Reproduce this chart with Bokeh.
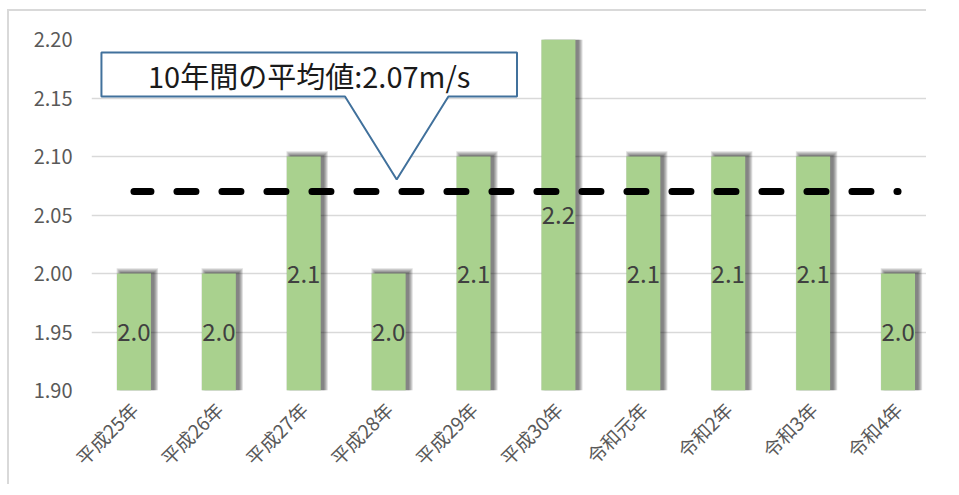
from bokeh.plotting import figure
from bokeh.models import (FactorRange, Range1d, FixedTicker, NumeralTickFormatter,
                          PolyAnnotation, Label, ColumnDataSource)
from bokeh.transform import dodge
from bokeh.core.properties import value
from bokeh.embed import file_html
from bokeh.resources import INLINE

# ---- data ----
categories = ["平成25年", "平成26年", "平成27年", "平成28年", "平成29年",
              "平成30年", "令和元年", "令和2年", "令和3年", "令和4年"]
wind_speed = [2.0, 2.0, 2.1, 2.0, 2.1, 2.2, 2.1, 2.1, 2.1, 2.0]
average = 2.07
y_ticks = [1.90, 1.95, 2.00, 2.05, 2.10, 2.15, 2.20]
callout_text = "10年間の平均値:2.07m/s"

Y0, Y1 = 1.90, 2.20
FONT = "Noto Sans CJK JP"

src = ColumnDataSource(dict(
    cat=categories,
    v=wind_speed,
    mid=[(Y0 + v) / 2 for v in wind_speed],
    lab=[f"{v:.1f}" for v in wind_speed],
    avg=[average] * len(categories),
))

p = figure(x_range=FactorRange(*categories), y_range=Range1d(Y0, Y1),
           width=919, height=475, output_backend="svg", toolbar_location=None,
           min_border_left=0, min_border_right=9, min_border_top=28,
           min_border_bottom=96)
p.styles = {"margin-left": "7px", "margin-top": "9px", "padding-left": "21px",
            "border-left": "2px solid #d9d9d9", "border-top": "2px solid #d9d9d9"}
p.outline_line_color = None
p.background_fill_color = "white"
p.border_fill_color = "white"

# grid
p.xgrid.grid_line_color = None
p.ygrid.grid_line_color = "#d9d9d9"
p.ygrid.grid_line_width = 1.3
p.ygrid.ticker = FixedTicker(ticks=y_ticks)

# y axis
p.yaxis.ticker = FixedTicker(ticks=y_ticks)
p.yaxis.formatter = NumeralTickFormatter(format="0.00")
p.yaxis.axis_line_color = None
p.yaxis.major_tick_line_color = None
p.yaxis.minor_tick_line_color = None
p.yaxis.major_tick_out = 0
p.yaxis.major_label_standoff = 19
p.yaxis.major_label_text_font = FONT
p.yaxis.major_label_text_font_size = "20px"
p.yaxis.major_label_text_color = "#595959"

# x axis
p.xaxis.axis_line_color = None
p.xaxis.major_tick_line_color = None
p.xaxis.minor_tick_line_color = None
p.xaxis.major_tick_out = 0
p.xaxis.major_label_orientation = 0.785398
p.xaxis.major_label_standoff = 15
p.xaxis.major_label_text_font = FONT
p.xaxis.major_label_text_font_size = "19px"
p.xaxis.major_label_text_color = "#595959"

# bar shadows (soft, offset right/up)
for k in range(5):
    shadow_src = ColumnDataSource(dict(
        cat=categories, top=[v + 0.0012 + 0.0008 * k for v in wind_speed]))
    p.vbar(x=dodge("cat", 0.04, range=p.x_range), width=0.40 + 0.022 * k,
           top="top", bottom=Y0, source=shadow_src,
           fill_color="black", fill_alpha=0.12, line_color=None)

# bars
p.vbar(x="cat", top="v", bottom=Y0, width=0.4, source=src,
       fill_color="#a9d18e", line_color=None)

# bar labels
p.text(x="cat", y="mid", text="lab", source=src, text_align="center",
       text_baseline="middle", text_font=value(FONT), text_font_size="24px",
       text_color="#404040")

# average line
p.line(x="cat", y="avg", source=src, line_color="black", line_width=7,
       line_dash="19 26", line_dash_offset=2, line_cap="round")

# callout
def px_x(px):
    return (px - 88) / 85.4

def px_y(py):
    return Y1 - (py - 40) * 0.05 / 58.5

cx = [px_x(v) for v in (98, 516, 516, 447, 395, 343, 98)]
cy = [px_y(v) for v in (53, 53, 97, 97, 180, 97, 97)]
p.add_layout(PolyAnnotation(xs=cx, ys=cy, fill_color="white", fill_alpha=1,
                            line_color="#41719c", line_alpha=1, line_width=2))
p.add_layout(Label(x=px_x(307), y=px_y(75), text=callout_text,
                   text_align="center", text_baseline="middle",
                   text_font=FONT, text_font_size="29px", text_color="#1a1a1a"))

open("out.html", "w").write(file_html(p, INLINE))
